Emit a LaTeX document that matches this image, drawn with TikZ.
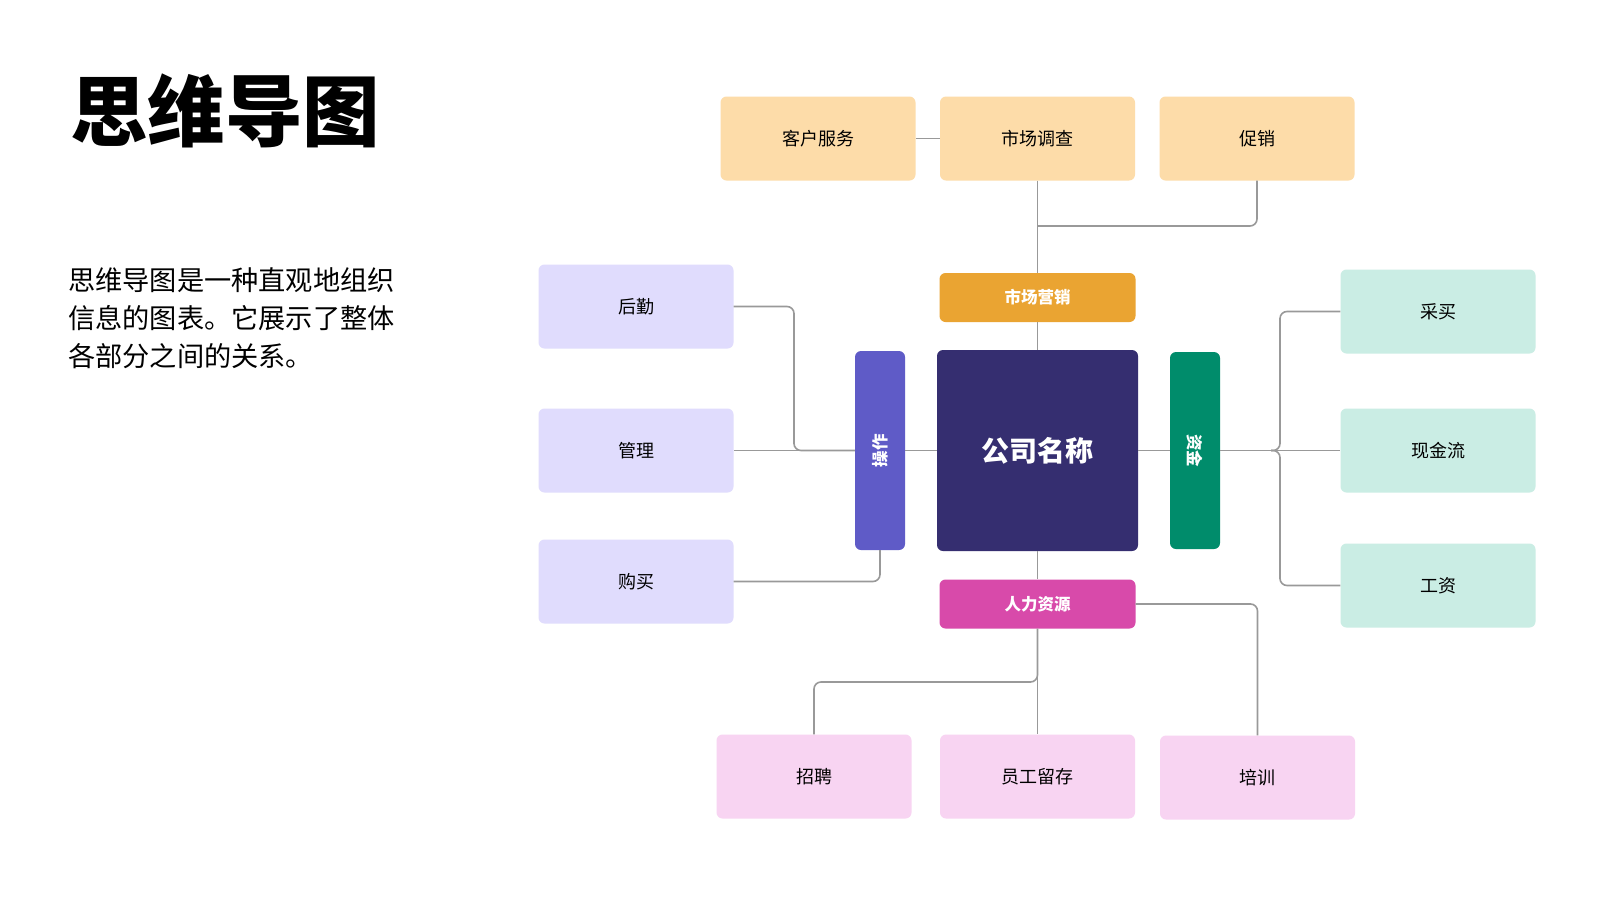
\documentclass[tikz,border=0pt]{standalone}
\usepackage{fontspec}
\setmainfont{Noto Sans CJK SC}
\usepackage{tikz}
\usetikzlibrary{positioning}

\definecolor{orangeL}{HTML}{FDDCA9}
\definecolor{orangeD}{HTML}{EAA432}
\definecolor{violetL}{HTML}{E0DCFD}
\definecolor{violetD}{HTML}{5F5BC7}
\definecolor{navy}{HTML}{352E70}
\definecolor{greenL}{HTML}{CAEDE4}
\definecolor{greenD}{HTML}{008C6B}
\definecolor{pinkL}{HTML}{F8D4F2}
\definecolor{pinkD}{HTML}{D84AAA}
\definecolor{linkgray}{HTML}{999999}

\tikzset{
  leaf/.style={rounded corners=6pt, minimum width=195pt, minimum height=84pt,
    inner sep=0pt, font=\fontsize{18}{20}\selectfont, text=black},
  head/.style={rounded corners=6pt, minimum width=196pt, minimum height=49pt,
    inner sep=0pt, text=white, font=\bfseries\fontsize{16.5}{18}\selectfont},
  bar/.style={rounded corners=6pt, minimum width=50pt, minimum height=199pt,
    inner sep=0pt, text=white, font=\bfseries\fontsize{16.5}{18}\selectfont},
  link/.style={draw=linkgray, line width=1.6pt, rounded corners=7pt}
}

\begin{document}
\begin{tikzpicture}[x=1pt, y=-1pt]
   \useasboundingbox[fill=white] (0,0) rectangle (1615,903);

   % left text
   \node[anchor=base west, inner sep=0pt, font=\bfseries\fontsize{77.5}{80}\selectfont] (title) at (70,140) {思维导图};
   \node[anchor=base west, inner sep=0pt, font=\fontsize{27.2}{38}\selectfont] (line1) at (68,290) {思维导图是一种直观地组织};
   \node[anchor=base west, inner sep=0pt, font=\fontsize{27.2}{38}\selectfont] (line2) at (68,328) {信息的图表。它展示了整体};
   \node[anchor=base west, inner sep=0pt, font=\fontsize{27.2}{38}\selectfont] (line3) at (68,366) {各部分之间的关系。};

   % center and branches
   \node[rounded corners=6pt, fill=navy, minimum width=201pt, minimum height=201pt, text=white,
     font=\bfseries\fontsize{28}{30}\selectfont] (gs) at (1037.5,450.5) {公司名称};
   \begin{scope}[every node/.style={head}]
    \node[fill=orangeD] (scyx) at (1037.5,297.5) {市场营销};
    \node[fill=pinkD] (rlzy) at (1037.5,604) {人力资源};
   \end{scope}
   \node[bar, fill=violetD] (cz) at (880,450.5) {\rotatebox{90}{操作}};
   \node[bar, fill=greenD, minimum height=197pt] (zj) at (1195,450.5) {\rotatebox{-90}{资金}};

   % leaves
   \begin{scope}[every node/.style={leaf, fill=orangeL}]
    \node (khfw) at (818,138.5) {客户服务};
    \node (scdc) at (1037.5,138.5) {市场调查};
    \node (cx) at (1257,138.5) {促销};
   \end{scope}
   \begin{scope}[every node/.style={leaf, fill=violetL}]
    \node (hq) at (636,306.5) {后勤};
    \node (gl) at (636,450.5) {管理};
    \node (gm) at (636,581.5) {购买};
   \end{scope}
   \begin{scope}[every node/.style={leaf, fill=greenL}]
    \node (cm) at (1438,311.5) {采买};
    \node (xjl) at (1438,450.5) {现金流};
    \node (gz) at (1438,585.5) {工资};
   \end{scope}
   \begin{scope}[every node/.style={leaf, fill=pinkL}]
    \node (zp) at (814,776.5) {招聘};
    \node (yglc) at (1037.5,776.5) {员工留存};
    \node (px) at (1257.5,777.5) {培训};
   \end{scope}

   % joints
   \coordinate (jcx) at (1037.5,226);
   \coordinate (jzp) at (1037.5,682);
   \coordinate (jhq) at (794,450.5);
   \coordinate (jzj) at (1280,450.5);

   \begin{scope}[every path/.style={link}]
    \draw (khfw) -- (scdc);
    \draw (scdc) -- (scyx);
    \draw (cx.south) |- (jcx);
    \draw (scyx) -- (gs);
    \draw (gs) -- (rlzy);
    \draw (rlzy) -- (yglc);
    \draw (rlzy.south) -- (jzp) -| (zp.north);
    \draw (rlzy.east) -| (px.north);
    \draw (gs) -- (cz);
    \draw (cz) -- (gl);
    \draw (hq.east) -| (jhq) -- (cz.west);
    \draw (gm.east) -| (cz.south);
    \draw (gs) -- (zj);
    \draw (zj) -- (xjl);
    \draw (cm.west) -| (jzj) -- ++(-9,0);
    \draw (gz.west) -| (jzj) -- ++(-9,0);
   \end{scope}
\end{tikzpicture}
\end{document}
